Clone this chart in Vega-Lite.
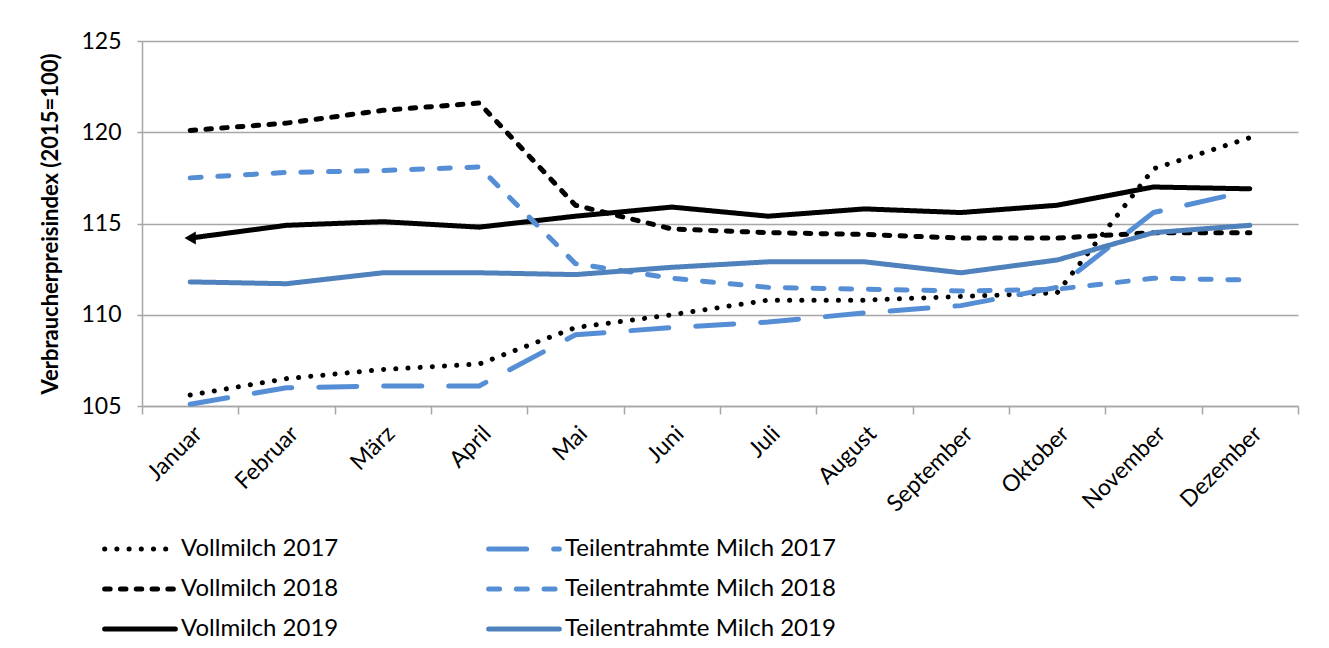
{
  "$schema": "https://vega.github.io/schema/vega-lite/v6.json",
  "autosize": {"type": "none"},
  "width": 1156,
  "height": 365,
  "padding": {"left": 142, "top": 41, "right": 31, "bottom": 242},
  "background": "white",
  "config": {
    "font": "Lato",
    "view": {"stroke": null},
    "axis": {"labelFont": "Lato", "titleFont": "Lato", "labelColor": "black", "titleColor": "black"},
    "legend": {"labelFont": "Lato", "labelColor": "black"}
  },
  "data": {
    "values": [
      {"month": "Januar", "series": "Vollmilch 2017", "value": 105.6},
      {"month": "Februar", "series": "Vollmilch 2017", "value": 106.5},
      {"month": "März", "series": "Vollmilch 2017", "value": 107.0},
      {"month": "April", "series": "Vollmilch 2017", "value": 107.3},
      {"month": "Mai", "series": "Vollmilch 2017", "value": 109.3},
      {"month": "Juni", "series": "Vollmilch 2017", "value": 110.0},
      {"month": "Juli", "series": "Vollmilch 2017", "value": 110.8},
      {"month": "August", "series": "Vollmilch 2017", "value": 110.8},
      {"month": "September", "series": "Vollmilch 2017", "value": 111.0},
      {"month": "Oktober", "series": "Vollmilch 2017", "value": 111.2},
      {"month": "November", "series": "Vollmilch 2017", "value": 118.0},
      {"month": "Dezember", "series": "Vollmilch 2017", "value": 119.7},

      {"month": "Januar", "series": "Vollmilch 2018", "value": 120.1},
      {"month": "Februar", "series": "Vollmilch 2018", "value": 120.5},
      {"month": "März", "series": "Vollmilch 2018", "value": 121.2},
      {"month": "April", "series": "Vollmilch 2018", "value": 121.6},
      {"month": "Mai", "series": "Vollmilch 2018", "value": 116.0},
      {"month": "Juni", "series": "Vollmilch 2018", "value": 114.7},
      {"month": "Juli", "series": "Vollmilch 2018", "value": 114.5},
      {"month": "August", "series": "Vollmilch 2018", "value": 114.4},
      {"month": "September", "series": "Vollmilch 2018", "value": 114.2},
      {"month": "Oktober", "series": "Vollmilch 2018", "value": 114.2},
      {"month": "November", "series": "Vollmilch 2018", "value": 114.5},
      {"month": "Dezember", "series": "Vollmilch 2018", "value": 114.5},

      {"month": "Januar", "series": "Vollmilch 2019", "value": 114.2},
      {"month": "Februar", "series": "Vollmilch 2019", "value": 114.9},
      {"month": "März", "series": "Vollmilch 2019", "value": 115.1},
      {"month": "April", "series": "Vollmilch 2019", "value": 114.8},
      {"month": "Mai", "series": "Vollmilch 2019", "value": 115.4},
      {"month": "Juni", "series": "Vollmilch 2019", "value": 115.9},
      {"month": "Juli", "series": "Vollmilch 2019", "value": 115.4},
      {"month": "August", "series": "Vollmilch 2019", "value": 115.8},
      {"month": "September", "series": "Vollmilch 2019", "value": 115.6},
      {"month": "Oktober", "series": "Vollmilch 2019", "value": 116.0},
      {"month": "November", "series": "Vollmilch 2019", "value": 117.0},
      {"month": "Dezember", "series": "Vollmilch 2019", "value": 116.9},

      {"month": "Januar", "series": "Teilentrahmte Milch 2017", "value": 105.1},
      {"month": "Februar", "series": "Teilentrahmte Milch 2017", "value": 106.0},
      {"month": "März", "series": "Teilentrahmte Milch 2017", "value": 106.1},
      {"month": "April", "series": "Teilentrahmte Milch 2017", "value": 106.1},
      {"month": "Mai", "series": "Teilentrahmte Milch 2017", "value": 108.9},
      {"month": "Juni", "series": "Teilentrahmte Milch 2017", "value": 109.3},
      {"month": "Juli", "series": "Teilentrahmte Milch 2017", "value": 109.6},
      {"month": "August", "series": "Teilentrahmte Milch 2017", "value": 110.1},
      {"month": "September", "series": "Teilentrahmte Milch 2017", "value": 110.5},
      {"month": "Oktober", "series": "Teilentrahmte Milch 2017", "value": 111.5},
      {"month": "November", "series": "Teilentrahmte Milch 2017", "value": 115.6},
      {"month": "Dezember", "series": "Teilentrahmte Milch 2017", "value": 116.8},

      {"month": "Januar", "series": "Teilentrahmte Milch 2018", "value": 117.5},
      {"month": "Februar", "series": "Teilentrahmte Milch 2018", "value": 117.8},
      {"month": "März", "series": "Teilentrahmte Milch 2018", "value": 117.9},
      {"month": "April", "series": "Teilentrahmte Milch 2018", "value": 118.1},
      {"month": "Mai", "series": "Teilentrahmte Milch 2018", "value": 112.8},
      {"month": "Juni", "series": "Teilentrahmte Milch 2018", "value": 112.0},
      {"month": "Juli", "series": "Teilentrahmte Milch 2018", "value": 111.5},
      {"month": "August", "series": "Teilentrahmte Milch 2018", "value": 111.4},
      {"month": "September", "series": "Teilentrahmte Milch 2018", "value": 111.3},
      {"month": "Oktober", "series": "Teilentrahmte Milch 2018", "value": 111.4},
      {"month": "November", "series": "Teilentrahmte Milch 2018", "value": 112.0},
      {"month": "Dezember", "series": "Teilentrahmte Milch 2018", "value": 111.9},

      {"month": "Januar", "series": "Teilentrahmte Milch 2019", "value": 111.8},
      {"month": "Februar", "series": "Teilentrahmte Milch 2019", "value": 111.7},
      {"month": "März", "series": "Teilentrahmte Milch 2019", "value": 112.3},
      {"month": "April", "series": "Teilentrahmte Milch 2019", "value": 112.3},
      {"month": "Mai", "series": "Teilentrahmte Milch 2019", "value": 112.2},
      {"month": "Juni", "series": "Teilentrahmte Milch 2019", "value": 112.6},
      {"month": "Juli", "series": "Teilentrahmte Milch 2019", "value": 112.9},
      {"month": "August", "series": "Teilentrahmte Milch 2019", "value": 112.9},
      {"month": "September", "series": "Teilentrahmte Milch 2019", "value": 112.3},
      {"month": "Oktober", "series": "Teilentrahmte Milch 2019", "value": 113.0},
      {"month": "November", "series": "Teilentrahmte Milch 2019", "value": 114.5},
      {"month": "Dezember", "series": "Teilentrahmte Milch 2019", "value": 114.9}
    ]
  },
  "encoding": {
    "x": {
      "field": "month",
      "type": "ordinal",
      "sort": ["Januar", "Februar", "März", "April", "Mai", "Juni", "Juli", "August", "September", "Oktober", "November", "Dezember"],
      "scale": {"type": "band", "paddingInner": 0, "paddingOuter": 0},
      "bandPosition": 0.5,
      "axis": {
        "title": null,
        "labelAngle": -45,
        "labelFontSize": 23,
        "labelPadding": 8,
        "tickBand": "extent",
        "tickSize": 8,
        "tickColor": "#A6A6A6",
        "tickWidth": 1.5,
        "domainColor": "#A6A6A6",
        "domainWidth": 1.5,
        "grid": false
      }
    },
    "y": {
      "field": "value",
      "type": "quantitative",
      "scale": {"domain": [105, 125], "nice": false, "zero": false},
      "axis": {
        "title": "Verbraucherpreisindex (2015=100)",
        "titleFontSize": 22,
        "titleFontWeight": "bold",
        "titlePadding": 18,
        "values": [105, 110, 115, 120, 125],
        "labelFontSize": 23,
        "labelPadding": 16,
        "tickSize": 5,
        "tickColor": "#A6A6A6",
        "tickWidth": 1.5,
        "domainColor": "#A6A6A6",
        "domainWidth": 1.5,
        "grid": true,
        "gridColor": "#A6A6A6",
        "gridWidth": 1.5
      }
    }
  },
  "layer": [
    {
      "mark": {"type": "line", "strokeCap": "round", "strokeJoin": "round"},
      "encoding": {
        "color": {
          "field": "series",
          "type": "nominal",
          "scale": {
            "domain": ["Vollmilch 2017", "Teilentrahmte Milch 2017", "Vollmilch 2018", "Teilentrahmte Milch 2018", "Vollmilch 2019", "Teilentrahmte Milch 2019"],
            "range": ["black", "#558ED5", "black", "#558ED5", "black", "#4F81BD"]
          },
          "legend": {
            "title": null,
            "orient": "none",
            "legendX": -40,
            "legendY": 488,
            "direction": "horizontal",
            "columns": 2,
            "columnPadding": 147,
            "rowPadding": 0,
            "clipHeight": 40,
            "symbolType": "stroke",
            "symbolSize": 5000,
            "labelFontSize": 24,
            "labelOffset": 3,
            "labelLimit": 400,
            "encode": {"symbols": {"update": {"strokeCap": {"value": "round"}}}}
          }
        },
        "strokeDash": {
          "field": "series",
          "type": "nominal",
          "scale": {
            "domain": ["Vollmilch 2017", "Teilentrahmte Milch 2017", "Vollmilch 2018", "Teilentrahmte Milch 2018", "Vollmilch 2019", "Teilentrahmte Milch 2019"],
            "range": [[0.1, 12.1], [38, 27], [5.5, 10.3], [11, 16.7], [1, 0], [1, 0]]
          },
          "legend": {
            "title": null,
            "orient": "none",
            "legendX": -40,
            "legendY": 488,
            "direction": "horizontal",
            "columns": 2,
            "columnPadding": 147,
            "rowPadding": 0,
            "clipHeight": 40,
            "symbolType": "stroke",
            "symbolSize": 5000,
            "labelFontSize": 24,
            "labelOffset": 3,
            "labelLimit": 400,
            "encode": {"symbols": {"update": {"strokeCap": {"value": "round"}}}}
          }
        },
        "strokeWidth": {
          "field": "series",
          "type": "nominal",
          "scale": {
            "domain": ["Vollmilch 2017", "Teilentrahmte Milch 2017", "Vollmilch 2018", "Teilentrahmte Milch 2018", "Vollmilch 2019", "Teilentrahmte Milch 2019"],
            "range": [5, 5, 3.5, 4, 3.5, 4.5]
          },
          "legend": {
            "title": null,
            "orient": "none",
            "legendX": -40,
            "legendY": 488,
            "direction": "horizontal",
            "columns": 2,
            "columnPadding": 147,
            "rowPadding": 0,
            "clipHeight": 40,
            "symbolType": "stroke",
            "symbolSize": 5000,
            "labelFontSize": 24,
            "labelOffset": 3,
            "labelLimit": 400,
            "encode": {"symbols": {"update": {"strokeCap": {"value": "round"}}}}
          }
        }
      }
    },
    {
      "transform": [{"filter": "datum.series === 'Vollmilch 2019' && datum.month === 'Januar'"}],
      "mark": {"type": "point", "shape": "triangle-left", "filled": true, "color": "black", "opacity": 1, "size": 170}
    }
  ]
}
